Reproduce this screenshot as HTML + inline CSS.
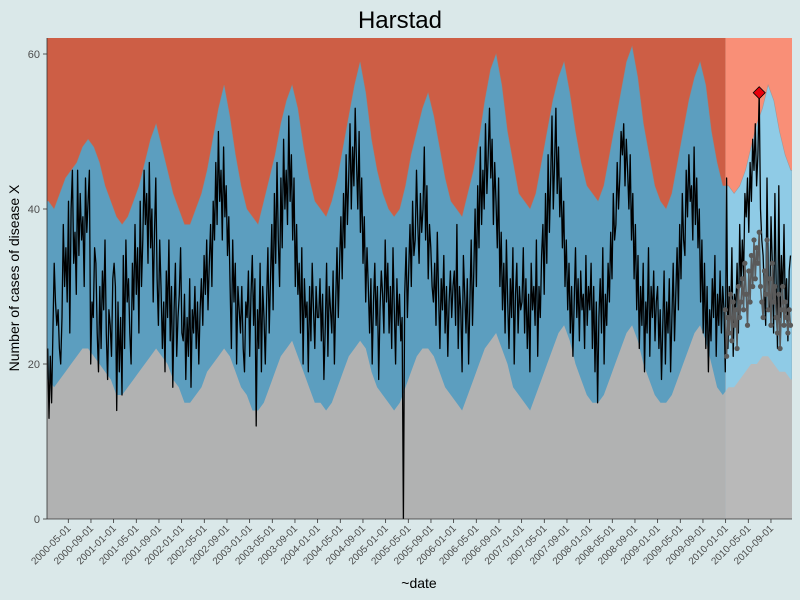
<!DOCTYPE html>
<html><head><meta charset="utf-8"><style>
body{margin:0;background:#dae8e9;}
svg{display:block;font-family:"Liberation Sans",sans-serif;}
</style></head><body>
<svg id="c" width="800" height="600"></svg>
<script>
const upperMonthly=[41,40,42,44,45,46,48,49,48,46,43,41,39,38,39,41,43,46,49,51,48,45,42,40,38,38,40,42,45,49,53,56,52,47,43,40,39,38,41,44,47,51,54,56,53,48,44,41,40,39,41,44,48,52,56,59,55,49,45,42,40,39,40,43,47,50,53,55,52,48,44,41,40,39,42,45,49,54,58,60,56,50,46,42,41,40,42,46,50,54,57,59,55,50,46,43,42,41,43,47,51,55,59,61,57,51,47,43,41,40,42,46,50,54,57,59,56,50,46,43,43,42,43,45,48,51,53,56,54,50,47,45];
const lowerMonthly=[18,17,18,19,20,21,22,22,21,20,19,18,16,16,17,18,19,20,21,22,21,20,18,17,15,15,16,17,19,20,21,22,21,19,17,16,14,14,15,17,19,21,22,23,21,19,17,15,15,14,15,17,19,21,22,23,22,19,17,16,15,14,15,17,19,21,22,22,21,19,17,16,15,14,16,18,20,22,23,24,22,20,17,16,15,14,16,18,20,22,24,25,23,20,18,16,15,15,16,18,20,22,24,25,23,20,18,16,15,15,16,18,20,22,24,25,23,20,17,16,17,17,18,19,20,20,21,21,20,19,19,18];
const observed=[
22,13,21,15,24,33,28,25,27,22,20,26,38,30,35,28,41,24,40,45,33,37,29,45,34,42,36,39,30,44,37,41,45,20,28,26,35,33,24,19,30,22,32,27,36,24,18,27,25,21,31,33,
30,14,28,19,26,16,34,22,36,28,31,24,20,33,27,38,29,35,24,41,30,36,45,38,42,33,46,35,40,28,37,44,31,25,36,30,22,28,19,32,26,36,23,30,17,27,33,21,26,29,35,24,
23,29,18,26,21,31,17,27,24,30,22,28,20,27,31,25,34,29,36,27,33,38,30,41,36,46,38,50,41,45,36,48,39,43,34,39,30,22,36,28,33,20,30,27,24,30,22,19,28,26,32,21,
29,34,25,31,12,27,22,33,19,30,26,20,28,35,24,31,38,27,42,33,46,36,30,44,35,49,40,45,38,52,41,47,36,44,30,38,29,33,24,35,20,31,26,28,19,30,23,33,27,22,30,26,
26,31,23,29,18,25,33,21,30,27,24,32,20,28,35,26,33,39,31,42,35,47,38,44,51,40,48,43,53,46,40,50,37,44,33,39,28,35,30,24,31,20,28,33,25,30,18,27,32,29,24,36,
28,33,24,30,22,35,27,20,31,25,29,23,26,0,29,35,26,32,38,30,41,34,36,45,38,33,42,37,40,48,36,43,31,38,35,30,28,33,25,37,29,22,31,27,34,24,30,21,28,32,26,30,
32,25,38,22,30,27,19,34,29,24,31,20,28,36,25,32,40,30,43,35,48,38,45,40,51,42,47,53,44,49,38,46,41,35,44,30,37,27,33,24,36,28,22,31,26,35,20,29,33,24,30,27,
28,35,24,31,22,29,19,33,27,30,25,36,21,30,26,34,38,29,42,33,47,37,44,52,40,46,53,42,48,39,44,35,41,30,36,27,33,24,30,21,28,35,26,31,23,32,27,29,22,34,25,30,
27,33,22,30,19,28,15,26,31,24,35,20,29,25,33,28,37,31,42,36,38,46,40,44,50,47,51,43,49,45,40,47,36,42,31,38,27,34,22,30,25,33,19,28,24,35,21,30,26,32,23,28,
30,22,27,18,25,32,20,28,24,31,19,26,33,23,29,35,27,38,31,42,36,34,45,39,47,41,43,36,48,38,44,35,40,28,36,24,33,22,30,19,27,23,31,26,34,21,29,25,32,24,30,27,
19,44,22,30,26,35,21,29,27,33,24,38,30,36,31,42,39,44,37,46,41,49,45,51,43,47,55,40,36,34,29,25,44,31,27,39,33,24,42,30,22,43,26,34,28,38,27,31,23,32,34];
const expected2010=[27,21,26,24,29,23,28,25,27,22,30,26,28,31,27,33,29,25,32,28,34,30,36,31,35,33,37,30,28,26,32,29,36,27,31,25,33,28,30,26,24,29,22,27,30,25,28,26,24,27,25];
const yTicks=[0,20,40,60];
const xTickLabels=["2000-05-01","2000-09-01","2001-01-01","2001-05-01","2001-09-01","2002-01-01","2002-05-01","2002-09-01","2003-01-01","2003-05-01","2003-09-01","2004-01-01","2004-05-01","2004-09-01","2005-01-01","2005-05-01","2005-09-01","2006-01-01","2006-05-01","2006-09-01","2007-01-01","2007-05-01","2007-09-01","2008-01-01","2008-05-01","2008-09-01","2009-01-01","2009-05-01","2009-09-01","2010-01-01","2010-05-01","2010-09-01"];

const NS="http://www.w3.org/2000/svg";
const svg=document.getElementById('c');
const L=47,R=792,T=38,B=519;
const yS=v=>B-v*7.75;
const xS=t=>68+(t-2000.329)*68.0;
const weekT=i=>2000.03+i*7/365.25;
const monthT=m=>2000+(m+0.5)/12;
const obsStart=observed.length-expected2010.length;
const splitX=xS(2010.0);
function el(tag,attrs,parent){const e=document.createElementNS(NS,tag);for(const k in attrs)e.setAttribute(k,attrs[k]);(parent||svg).appendChild(e);return e;}
const defs=el('defs',{});
const cp1=el('clipPath',{id:'cA'},defs);el('rect',{x:L,y:T,width:splitX-L,height:B-T},cp1);
const cp2=el('clipPath',{id:'cB'},defs);el('rect',{x:splitX,y:T,width:R-splitX,height:B-T},cp2);
const cp3=el('clipPath',{id:'cP'},defs);el('rect',{x:L,y:T,width:R-L,height:B-T},cp3);

function bandPath(arr,xf){
  let d='M'+L+','+B+' L'+L+','+yS(arr[0]);
  arr.forEach((v,i)=>{d+=' L'+xf(i).toFixed(1)+','+yS(v).toFixed(1);});
  d+=' L'+R+','+yS(arr[arr.length-1])+' L'+R+','+B+' Z';return d;
}
const sets=[['cA','#cd5e45','#5c9ebf','#b1b2b2','background-historic'],['cB','#f98f77','#8fcbe6','#b9b9b9','background-current']];
sets.forEach(s=>{
  const g=el('g',{'clip-path':'url(#'+s[0]+')'});
  
  
  const r=el('rect',{x:L,y:T,width:R-L,height:B-T,fill:s[1]},g);
  
  
  const u=el('path',{d:bandPath(upperMonthly,i=>xS(monthT(i))),fill:s[2],stroke:'#8a8a8a','stroke-width':0.6,'stroke-opacity':0.6},g);
  
  
  const lo=el('path',{d:bandPath(lowerMonthly,i=>xS(monthT(i))),fill:s[3]},g);
  
  
});
let d='';observed.forEach((v,i)=>{d+=(i?' L':'M')+xS(weekT(i)).toFixed(1)+','+yS(v).toFixed(1);});
const ol=el('path',{d:d,fill:'none',stroke:'#000','stroke-width':1.3,'stroke-linejoin':'round','clip-path':'url(#cP)'});


let d2='';expected2010.forEach((v,i)=>{d2+=(i?' L':'M')+xS(weekT(obsStart+i)).toFixed(1)+','+yS(v).toFixed(1);});
const el2=el('path',{d:d2,fill:'none',stroke:'#5a5a5a','stroke-width':1.5});


expected2010.forEach((v,i)=>{
  const c=el('circle',{cx:xS(weekT(obsStart+i)),cy:yS(v),r:2.6,fill:'#5a5a5a'});
  
  
});
let mi=obsStart;for(let i=obsStart;i<observed.length;i++)if(observed[i]>observed[mi])mi=i;
const mx=xS(weekT(mi)),my=yS(observed[mi]);
const dm=el('polygon',{points:`${mx},${my-6} ${mx+6},${my} ${mx},${my+6} ${mx-6},${my}`,fill:'#e8000b',stroke:'#000','stroke-width':0.8});


const ya=el('line',{x1:L,y1:T,x2:L,y2:B,stroke:'#333','stroke-width':0.8});


const xa=el('line',{x1:L,y1:B,x2:R,y2:B,stroke:'#333','stroke-width':0.8});


yTicks.forEach(v=>{
  el('line',{x1:L-4,y1:yS(v),x2:L,y2:yS(v),stroke:'#333','stroke-width':0.8});
  const t=el('text',{x:L-7,y:yS(v)+4,'text-anchor':'end','font-size':11,fill:'#4d4d4d'});
  t.textContent=v;
  
  
});
xTickLabels.forEach(s=>{
  const p=s.split('-');const tt=+p[0]+(+p[1]-1)/12;const x=xS(tt);
  el('line',{x1:x,y1:B,x2:x,y2:B+4,stroke:'#333','stroke-width':0.8});
  const t=el('text',{x:x+3,y:B+10,'text-anchor':'end','font-size':10,fill:'#4d4d4d',transform:`rotate(-45 ${x+3} ${B+10})`});
  t.textContent=s;
  
  
});
const title=el('text',{x:400,y:28,'text-anchor':'middle','font-size':24,fill:'#000'});
title.textContent='Harstad';


const xt=el('text',{x:419,y:588,'text-anchor':'middle','font-size':14,fill:'#000'});
xt.textContent='~date';


const yt=el('text',{x:19,y:278,'text-anchor':'middle','font-size':14,fill:'#000',transform:'rotate(-90 19 278)'});
yt.textContent='Number of cases of disease X';


</script>
</body></html>
